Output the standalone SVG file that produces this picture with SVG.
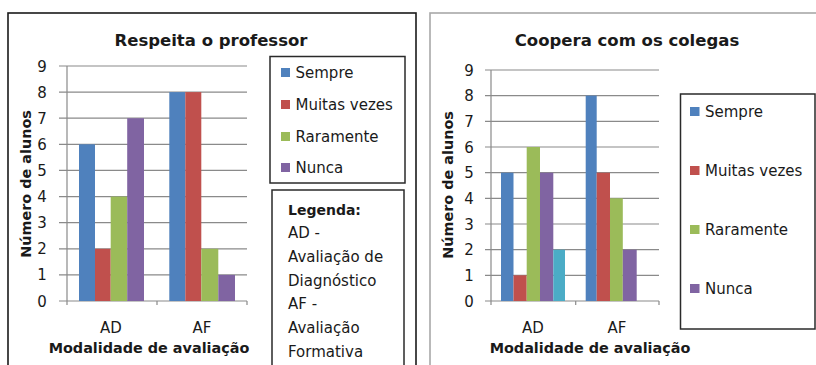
<svg xmlns="http://www.w3.org/2000/svg" width="816" height="365" viewBox="0 0 816 365">
<style>
text{font-family:"DejaVu Sans","Liberation Sans",sans-serif;fill:#1a1a1a}
.title{font-size:16.5px;font-weight:bold;text-anchor:middle}
.axt{font-size:14.4px;font-weight:bold;text-anchor:middle}
.tick{font-size:15px;text-anchor:middle}
.lg{font-size:15px}
.grid{stroke:#8a8a8a;stroke-width:1.2;fill:none}
.box{fill:#fff;stroke:#2a2a2a;stroke-width:1.5}
.b1{fill:#4F81BD}.b2{fill:#C0504D}.b3{fill:#9BBB59}.b4{fill:#8064A2}.b5{fill:#4BACC6}
</style>
<rect width="816" height="365" fill="#fff"/>

<g id="panel-left">
<rect x="8" y="13" width="408" height="360" fill="#fff" stroke="#1a1a1a" stroke-width="1.6"/>
<text class="title" x="211" y="46">Respeita o professor</text>
<g id="grid-left" class="grid">
<path d="M59 301H247M59 274.9H247M59 248.8H247M59 222.7H247M59 196.6H247M59 170.4H247M59 144.3H247M59 118.2H247M59 92.1H247M59 66H247"/>
<path d="M67 66V305M157 301V305M247 301V305"/>
</g>
<g id="yticks-left" class="tick">
<text x="42" y="306.5">0</text><text x="42" y="280.4">1</text><text x="42" y="254.3">2</text><text x="42" y="228.2">3</text><text x="42" y="202.1">4</text><text x="42" y="175.9">5</text><text x="42" y="149.8">6</text><text x="42" y="123.7">7</text><text x="42" y="97.6">8</text><text x="42" y="71.5">9</text>
</g>
<g id="bars-left">
<rect class="b1" x="79" y="144.3" width="16" height="156.7"/>
<rect class="b2" x="95" y="248.8" width="15.7" height="52.2"/>
<rect class="b3" x="110.7" y="196.6" width="16.5" height="104.4"/>
<rect class="b4" x="127.2" y="118.2" width="16.8" height="182.8"/>
<rect class="b1" x="169.3" y="92.1" width="16" height="208.9"/>
<rect class="b2" x="185.3" y="92.1" width="16" height="208.9"/>
<rect class="b3" x="201.3" y="248.8" width="17" height="52.2"/>
<rect class="b4" x="218.3" y="274.9" width="16.7" height="26.1"/>
</g>
<text class="tick" x="111" y="333">AD</text>
<text class="tick" x="202" y="333">AF</text>
<text class="axt" x="149" y="353">Modalidade de avaliação</text>
<text class="axt" transform="translate(31 184) rotate(-90)">Número de alunos</text>
<g id="legend-left">
<rect class="box" x="270" y="56.5" width="135" height="126.5"/>
<rect class="b1" x="281" y="68" width="9" height="9"/><text class="lg" x="295.5" y="77.5">Sempre</text>
<rect class="b2" x="281" y="100" width="9" height="9"/><text class="lg" x="295.5" y="109.5">Muitas vezes</text>
<rect class="b3" x="281" y="132" width="9" height="9"/><text class="lg" x="295.5" y="141.5">Raramente</text>
<rect class="b4" x="281" y="163" width="9" height="9"/><text class="lg" x="295.5" y="172.5">Nunca</text>
</g>
<g id="legenda-box">
<rect class="box" x="272" y="190" width="132" height="185"/>
<text class="lg" x="288" y="215" style="font-weight:bold;font-size:14px">Legenda:</text>
<text class="lg" x="288" y="238">AD -</text>
<text class="lg" x="288" y="262">Avaliação de</text>
<text class="lg" x="288" y="286">Diagnóstico</text>
<text class="lg" x="288" y="309">AF -</text>
<text class="lg" x="288" y="333">Avaliação</text>
<text class="lg" x="288" y="357">Formativa</text>
</g>
</g>

<g id="panel-right">
<rect x="430" y="13" width="400" height="360" fill="#fff" stroke="#a8a8a8" stroke-width="1.6"/>
<text class="title" x="627" y="46">Coopera com os colegas</text>
<g id="grid-right" class="grid">
<path d="M485 301H659M485 275.3H659M485 249.7H659M485 224H659M485 198.3H659M485 172.7H659M485 147H659M485 121.3H659M485 95.6H659M485 70H659"/>
<path d="M491 70V305M575.7 301V305M659 301V305"/>
</g>
<g id="yticks-right" class="tick">
<text x="469" y="306.5">0</text><text x="469" y="280.8">1</text><text x="469" y="255.2">2</text><text x="469" y="229.5">3</text><text x="469" y="203.8">4</text><text x="469" y="178.2">5</text><text x="469" y="152.5">6</text><text x="469" y="126.8">7</text><text x="469" y="101.1">8</text><text x="469" y="75.5">9</text>
</g>
<g id="bars-right">
<rect class="b1" x="501" y="172.7" width="12.5" height="128.3"/>
<rect class="b2" x="513.5" y="275.3" width="13.2" height="25.7"/>
<rect class="b3" x="526.7" y="147" width="13.3" height="154"/>
<rect class="b4" x="540" y="172.7" width="13.3" height="128.3"/>
<rect class="b5" x="553.3" y="249.7" width="11.7" height="51.3"/>
<rect class="b1" x="585.7" y="95.6" width="11" height="205.4"/>
<rect class="b2" x="596.7" y="172.7" width="13.3" height="128.3"/>
<rect class="b3" x="610" y="198.3" width="12.8" height="102.7"/>
<rect class="b4" x="622.8" y="249.7" width="13.9" height="51.3"/>
</g>
<text class="tick" x="533" y="333">AD</text>
<text class="tick" x="617" y="333">AF</text>
<text class="axt" x="590" y="353">Modalidade de avaliação</text>
<text class="axt" transform="translate(453 185) rotate(-90)">Número de alunos</text>
<g id="legend-right">
<rect class="box" x="680.5" y="94" width="134.5" height="235"/>
<rect class="b1" x="690" y="107" width="9.5" height="9"/><text class="lg" x="705" y="116.5">Sempre</text>
<rect class="b2" x="690" y="166" width="9.5" height="9"/><text class="lg" x="705" y="175.5">Muitas vezes</text>
<rect class="b3" x="690" y="225" width="9.5" height="9"/><text class="lg" x="705" y="234.5">Raramente</text>
<rect class="b4" x="690" y="284" width="9.5" height="9"/><text class="lg" x="705" y="293.5">Nunca</text>
</g>
</g>
</svg>
